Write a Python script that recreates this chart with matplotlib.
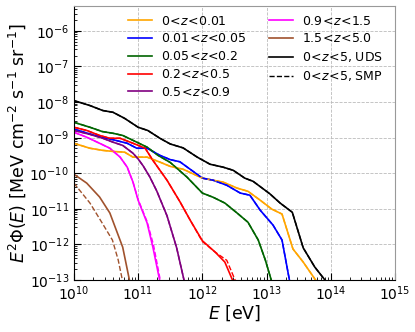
import numpy as np
import matplotlib
matplotlib.use("Agg")
import matplotlib.pyplot as plt

# ---- data (log10 E [eV], log10 E^2 Phi) ----
uds_logE = [10.0, 10.25, 10.45, 10.61, 10.79, 11.0, 11.15, 11.34, 11.5, 11.7, 11.92, 12.12, 12.32, 12.48, 12.66, 12.79, 13.05, 13.21, 13.40, 13.57, 13.75, 13.95]
uds_logF = [-7.96, -8.10, -8.24, -8.29, -8.46, -8.71, -8.80, -9.02, -9.18, -9.29, -9.55, -9.75, -9.83, -9.92, -10.14, -10.23, -10.58, -10.84, -11.10, -12.10, -12.64, -13.10]

z1_logE = [10.0, 10.25, 10.45, 10.61, 10.79, 10.92, 11.14, 11.34, 11.5, 11.7, 12.0, 12.17, 12.32, 12.54, 12.71, 12.90, 13.08, 13.24, 13.41, 13.57, 13.78]
z1_logF = [-9.16, -9.30, -9.36, -9.39, -9.41, -9.55, -9.55, -9.69, -9.81, -9.89, -10.14, -10.20, -10.25, -10.42, -10.51, -10.76, -11.01, -11.15, -12.13, -12.50, -13.05]

z2_logE = [10.0, 10.25, 10.45, 10.61, 10.83, 10.98, 11.14, 11.34, 11.5, 11.65, 11.81, 12.0, 12.17, 12.38, 12.59, 12.74, 12.90, 13.10, 13.24, 13.36]
z2_logF = [-8.76, -8.90, -9.00, -9.06, -9.16, -9.30, -9.30, -9.50, -9.62, -9.68, -9.89, -10.14, -10.20, -10.34, -10.56, -10.62, -11.04, -11.46, -11.88, -13.05]

z3_logE = [10.0, 10.25, 10.44, 10.61, 10.76, 10.98, 11.14, 11.31, 11.5, 11.76, 12.0, 12.17, 12.35, 12.54, 12.71, 12.87, 12.98, 13.08]
z3_logF = [-8.57, -8.71, -8.83, -8.88, -8.94, -9.13, -9.27, -9.50, -9.70, -10.11, -10.56, -10.68, -10.84, -11.12, -11.38, -11.88, -12.44, -13.05]

z4_logE = [10.0, 10.20, 10.40, 10.56, 10.72, 10.92, 11.11, 11.23, 11.45, 11.65, 11.81, 12.0, 12.2, 12.35, 12.48]
z4_logF = [-8.71, -8.80, -8.94, -9.02, -9.02, -9.16, -9.30, -9.64, -10.20, -10.80, -11.32, -11.90, -12.22, -12.50, -13.05]
z4s_logE = [10.0, 10.20, 10.40, 10.56, 10.72, 10.92, 11.11, 11.23, 11.45, 11.65, 11.81, 12.0, 12.2, 12.38, 12.52]
z4s_logF = [-8.71, -8.80, -8.94, -9.02, -9.02, -9.16, -9.30, -9.64, -10.20, -10.80, -11.32, -11.92, -12.22, -12.45, -13.05]

z5_logE = [10.0, 10.25, 10.45, 10.61, 10.76, 10.92, 11.0, 11.08, 11.18, 11.29, 11.45, 11.6, 11.72]
z5_logF = [-8.80, -8.91, -9.02, -9.13, -9.22, -9.44, -9.60, -9.80, -10.10, -10.50, -11.20, -12.10, -13.05]

z6_logE = [10.0, 10.2, 10.40, 10.56, 10.72, 10.83, 10.92, 11.0, 11.14, 11.23, 11.34]
z6_logF = [-8.85, -8.99, -9.16, -9.30, -9.55, -9.83, -10.25, -10.76, -11.40, -12.08, -13.05]
z6s_logE = [10.0, 10.2, 10.40, 10.56, 10.72, 10.83, 10.92, 11.0, 11.14, 11.24, 11.35]
z6s_logF = [-8.85, -8.99, -9.16, -9.30, -9.55, -9.83, -10.25, -10.74, -11.36, -12.02, -13.05]

z7_logE = [10.0, 10.2, 10.4, 10.56, 10.76, 10.87]
z7_logF = [-10.03, -10.28, -10.67, -11.12, -12.08, -13.05]
z7s_logE = [10.0, 10.25, 10.44, 10.6, 10.69, 10.76]
z7s_logF = [-10.28, -10.84, -11.40, -11.88, -12.44, -13.05]

labels = [r"$0\!<\!z\!<\!0.01$", r"$0.01\!<\!z\!<\!0.05$", r"$0.05\!<\!z\!<\!0.2$", r"$0.2\!<\!z\!<\!0.5$",
          r"$0.5\!<\!z\!<\!0.9$", r"$0.9\!<\!z\!<\!1.5$", r"$1.5\!<\!z\!<\!5.0$"]
label_uds = r"$0\!<\!z\!<\!5$, UDS"
label_smp = r"$0\!<\!z\!<\!5$, SMP"
colors = ["orange", "blue", "darkgreen", "red", "purple", "magenta", "sienna"]

solid = [(z1_logE, z1_logF), (z2_logE, z2_logF), (z3_logE, z3_logF), (z4_logE, z4_logF),
         (z5_logE, z5_logF), (z6_logE, z6_logF), (z7_logE, z7_logF)]
dashed = [(z1_logE, z1_logF), (z2_logE, z2_logF), (z3_logE, z3_logF), (z4s_logE, z4s_logF),
          (z5_logE, z5_logF), (z6s_logE, z6s_logF), (z7s_logE, z7s_logF)]

fig = plt.figure(figsize=(4.15, 3.32), dpi=100)
ax = fig.add_axes([0.178, 0.157, 0.774, 0.825])

def p(v):
    return 10.0 ** np.asarray(v)

for (le, lf), c, lab in zip(solid, colors, labels):
    ax.plot(p(le), p(lf), color=c, lw=1.2, label=lab)
for (le, lf), c in zip(dashed, colors):
    ax.plot(p(le), p(lf), color=c, lw=1.0, ls="--")
ax.plot(p(uds_logE), p(uds_logF), color="black", lw=1.2, label=label_uds)
ax.plot(p(uds_logE), p(uds_logF), color="black", lw=1.0, ls="--", label=label_smp)

ax.set_xscale("log")
ax.set_yscale("log")
ax.set_xlim(1e10, 1e15)
ax.set_ylim(1e-13, 5e-6)
ax.grid(True, which="major", ls="--", color="#bbbbbb", lw=0.6)
ax.tick_params(which="both", direction="in", labelsize=10)
ax.tick_params(which="major", length=5)
ax.tick_params(which="minor", length=2.5)
ax.set_xticks([1e10, 1e11, 1e12, 1e13, 1e14, 1e15])
ax.set_yticks([1e-13, 1e-12, 1e-11, 1e-10, 1e-9, 1e-8, 1e-7, 1e-6])
for s in ["top", "right"]:
    ax.spines[s].set_color("#999999")
ax.set_xlabel(r"$E$ [eV]", fontsize=12.5, labelpad=0)
ax.set_ylabel(r"$E^2\Phi(E)$ [MeV cm$^{-2}$ s$^{-1}$ sr$^{-1}$]", fontsize=12.5, labelpad=1)

ax.legend(ncol=2, frameon=False, fontsize=9, loc="upper left",
          bbox_to_anchor=(0.14, 1.0), handlelength=1.92, labelspacing=0.38,
          columnspacing=1.84, handletextpad=0.72, borderaxespad=0.3)

fig.savefig("out.png", dpi=100)
